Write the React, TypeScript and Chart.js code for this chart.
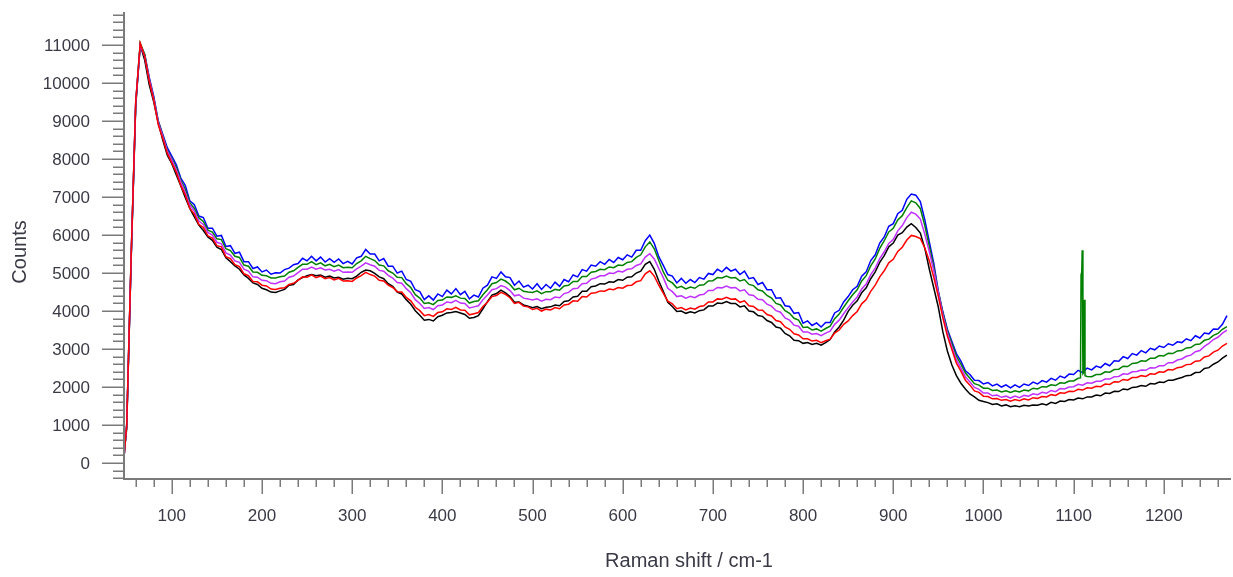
import React, { useEffect, useRef } from "react";
import { Chart, registerables } from "chart.js";

Chart.register(...registerables);

// Raman shift positions (cm-1)
const ramanShift = [
  47, 50, 55, 60, 65, 70, 75, 80, 85, 90, 95,
  100, 105, 110, 115, 120, 125, 130, 135, 140, 145,
  150, 155, 160, 165, 170, 175, 180, 185, 190, 195,
  200, 205, 210, 215, 220, 225, 230, 235, 240, 245,
  250, 255, 260, 265, 270, 275, 280, 285, 290, 295,
  300, 305, 310, 315, 320, 325, 330, 335, 340, 345,
  350, 355, 360, 365, 370, 375, 380, 385, 390, 395,
  400, 405, 410, 415, 420, 425, 430, 435, 440, 445,
  450, 455, 460, 465, 470, 475, 480, 485, 490, 495,
  500, 505, 510, 515, 520, 525, 530, 535, 540, 545,
  550, 555, 560, 565, 570, 575, 580, 585, 590, 595,
  600, 605, 610, 615, 620, 625, 630, 635, 640, 645,
  650, 655, 660, 665, 670, 675, 680, 685, 690, 695,
  700, 705, 710, 715, 720, 725, 730, 735, 740, 745,
  750, 755, 760, 765, 770, 775, 780, 785, 790, 795,
  800, 805, 810, 815, 820, 825, 830, 835, 840, 845,
  850, 855, 860, 865, 870, 875, 880, 885, 890, 895,
  900, 905, 910, 915, 920, 925, 930, 935, 940, 945,
  950, 955, 960, 965, 970, 975, 980, 985, 990, 995,
  1000, 1005, 1010, 1015, 1020, 1025, 1030, 1035, 1040, 1045,
  1050, 1055, 1060, 1065, 1070, 1075, 1080, 1085, 1090, 1095,
  1100, 1105, 1110, 1115, 1120, 1125, 1130, 1135, 1140, 1145,
  1150, 1155, 1160, 1165, 1170, 1175, 1180, 1185, 1190, 1195,
  1200, 1205, 1210, 1215, 1220, 1225, 1230, 1235, 1240, 1245,
  1250, 1255, 1260, 1265, 1270,
];

const blackCounts = [
  250, 900, 5400, 9400, 11000, 10600, 9950, 9500, 8950, 8500, 8100,
  7880, 7580, 7290, 6980, 6700, 6480, 6260, 6120, 5950, 5860,
  5680, 5620, 5400, 5300, 5190, 5100, 4950, 4860, 4740, 4700,
  4600, 4560, 4500, 4490, 4530, 4570, 4680, 4700, 4820, 4880,
  4930, 4960, 4930, 4950, 4890, 4920, 4870, 4890, 4840, 4860,
  4850, 4920, 5020, 5080, 5060, 4990, 4900, 4850, 4720, 4650,
  4500, 4450, 4300, 4180, 4010, 3890, 3760, 3780, 3740, 3850,
  3890, 3950, 3960, 3990, 3950, 3910, 3810, 3830, 3880, 4060,
  4250, 4420, 4460, 4550, 4480, 4380, 4230, 4240, 4160, 4130,
  4090, 4120, 4060, 4100, 4110, 4160, 4140, 4250, 4270, 4370,
  4390, 4520, 4520, 4640, 4660, 4720, 4710, 4770, 4760, 4830,
  4810, 4890, 4900, 5000, 5050, 5230, 5300, 5100, 4790, 4520,
  4230, 4120, 3990, 4000, 3940, 3980, 3950, 4010, 4030, 4130,
  4130, 4210, 4200, 4250, 4200, 4200, 4110, 4140, 4000, 3980,
  3880, 3860, 3750, 3700, 3580, 3550, 3410, 3350, 3230, 3220,
  3150, 3170, 3120, 3150, 3100, 3170, 3250, 3450, 3580, 3760,
  3990, 4150, 4270, 4480, 4610, 4850, 5030, 5280, 5460, 5690,
  5790, 6000, 6060, 6210, 6300, 6200, 6050, 5650, 5100, 4600,
  4100, 3450, 2950, 2580, 2300, 2100, 1950, 1820, 1740, 1650,
  1620, 1590, 1540, 1560, 1500, 1530, 1480, 1510, 1480, 1520,
  1500, 1530, 1520, 1560, 1530, 1600, 1570, 1630, 1620, 1670,
  1660, 1710, 1690, 1740, 1740, 1790, 1770, 1840, 1830, 1890,
  1880, 1950, 1930, 1990, 2000, 2040, 2020, 2090, 2080, 2130,
  2120, 2180, 2180, 2220, 2250, 2300, 2310, 2380, 2390, 2490,
  2510, 2600, 2660, 2760, 2840,
];

const redCounts = [
  150, 1000, 5500, 9500, 11050, 10700, 10050, 9550, 8900, 8550, 8150,
  7900, 7650, 7300, 7050, 6700, 6550, 6280, 6200, 5980, 5920,
  5720, 5690, 5430, 5380, 5220, 5170, 4980, 4930, 4780, 4770,
  4680, 4660, 4580, 4570, 4600, 4610, 4700, 4730, 4810, 4900,
  4890, 4950, 4880, 4920, 4850, 4880, 4820, 4860, 4790, 4800,
  4780, 4870, 4930, 5020, 4960, 4920, 4810, 4790, 4680, 4620,
  4510, 4500, 4360, 4270, 4100, 4010, 3880, 3910, 3860, 3960,
  3980, 4060, 4040, 4100, 4030, 4020, 3900, 3930, 3960, 4120,
  4230, 4380, 4410, 4490, 4440, 4350, 4200, 4230, 4130, 4110,
  4040, 4070, 4000, 4050, 4030, 4090, 4060, 4160, 4180, 4270,
  4260, 4380, 4370, 4470, 4480, 4530, 4520, 4580, 4560, 4620,
  4600, 4670, 4680, 4770, 4800, 4980, 5060, 4920, 4680, 4470,
  4260, 4190, 4060, 4090, 4030, 4080, 4050, 4120, 4140, 4240,
  4240, 4320, 4310, 4360, 4310, 4320, 4230, 4270, 4140, 4120,
  4030, 4020, 3910, 3870, 3750, 3720, 3580, 3520, 3400, 3370,
  3270, 3270, 3210, 3230, 3170, 3220, 3260, 3420, 3500, 3650,
  3740, 3880, 3990, 4190, 4300, 4520, 4680, 4900, 5060, 5270,
  5360, 5570, 5680, 5870, 5990, 5960, 5910, 5660, 5320, 4880,
  4380, 3820, 3340, 2990, 2630, 2420, 2180, 2050, 1900, 1860,
  1760, 1750, 1690, 1700, 1650, 1670, 1630, 1670, 1640, 1690,
  1660, 1720, 1700, 1750, 1740, 1800, 1780, 1850, 1840, 1890,
  1880, 1940, 1920, 1980, 1970, 2020, 2010, 2080, 2070, 2140,
  2130, 2200, 2180, 2250, 2250, 2300, 2280, 2350, 2340, 2400,
  2390, 2460, 2450, 2510, 2530, 2590, 2600, 2680, 2690, 2790,
  2820, 2920, 2970, 3080, 3150,
];

const magentaCounts = [
  150, 1000, 5500, 9500, 11000, 10700, 10100, 9580, 8950, 8600, 8200,
  7980, 7720, 7400, 7120, 6790, 6630, 6370, 6280, 6070, 6000,
  5810, 5770, 5530, 5470, 5320, 5280, 5100, 5050, 4900, 4890,
  4810, 4800, 4730, 4720, 4770, 4790, 4890, 4920, 5010, 5100,
  5100, 5160, 5100, 5140, 5080, 5100, 5050, 5090, 5020, 5030,
  5020, 5110, 5180, 5270, 5220, 5180, 5070, 5050, 4940, 4870,
  4750, 4730, 4590, 4480, 4300, 4200, 4070, 4090, 4040, 4140,
  4160, 4240, 4220, 4280, 4210, 4200, 4080, 4110, 4140, 4300,
  4420, 4560, 4590, 4670, 4630, 4540, 4400, 4430, 4340, 4320,
  4290, 4320, 4260, 4310, 4300, 4370, 4350, 4460, 4490, 4590,
  4600, 4720, 4730, 4840, 4870, 4930, 4930, 5000, 4990, 5050,
  5030, 5100, 5110, 5200, 5240, 5420, 5510, 5370, 5120, 4880,
  4600, 4510, 4380, 4400, 4340, 4390, 4350, 4420, 4440, 4540,
  4540, 4620, 4610, 4660, 4610, 4620, 4530, 4560, 4430, 4410,
  4310, 4300, 4180, 4130, 4010, 3970, 3820, 3760, 3630, 3600,
  3450, 3450, 3390, 3410, 3350, 3420, 3470, 3650, 3760, 3930,
  4090, 4240, 4370, 4580, 4710, 4960, 5130, 5380, 5560, 5780,
  5880, 6110, 6250, 6460, 6600, 6550, 6420, 6020, 5560, 5060,
  4480, 3900, 3420, 3060, 2720, 2500, 2270, 2130, 1990, 1940,
  1840, 1840, 1770, 1790, 1730, 1760, 1710, 1760, 1720, 1780,
  1760, 1820, 1800, 1860, 1840, 1910, 1880, 1960, 1950, 2000,
  2010, 2070, 2050, 2110, 2100, 2150, 2150, 2210, 2210, 2270,
  2280, 2350, 2340, 2400, 2410, 2450, 2440, 2510, 2500, 2560,
  2560, 2640, 2640, 2710, 2740, 2810, 2840, 2930, 2960, 3070,
  3150, 3250, 3310, 3420, 3500,
];

const greenCounts = [
  150, 1000, 5500, 9500, 11050, 10750, 10100, 9600, 8980, 8620, 8230,
  8010, 7780, 7450, 7200, 6850, 6700, 6450, 6360, 6130, 6080,
  5900, 5880, 5640, 5590, 5440, 5410, 5210, 5180, 5030, 5020,
  4940, 4930, 4870, 4870, 4900, 4920, 5020, 5060, 5150, 5230,
  5230, 5300, 5220, 5270, 5190, 5230, 5170, 5210, 5140, 5150,
  5140, 5250, 5320, 5440, 5380, 5330, 5210, 5190, 5060, 5000,
  4890, 4880, 4720, 4620, 4430, 4340, 4200, 4220, 4170, 4280,
  4290, 4370, 4360, 4400, 4340, 4330, 4210, 4250, 4270, 4430,
  4560, 4720, 4750, 4840, 4790, 4700, 4560, 4600, 4520, 4500,
  4490, 4530, 4460, 4510, 4510, 4570, 4550, 4660, 4680, 4780,
  4780, 4910, 4910, 5020, 5040, 5100, 5090, 5160, 5140, 5210,
  5200, 5280, 5300, 5410, 5480, 5690, 5820, 5640, 5330, 5030,
  4810, 4740, 4610, 4650, 4580, 4630, 4600, 4680, 4690, 4790,
  4800, 4880, 4870, 4920, 4870, 4880, 4790, 4830, 4700, 4670,
  4560, 4530, 4410, 4340, 4200, 4160, 4010, 3940, 3810, 3760,
  3570, 3580, 3500, 3530, 3470, 3540, 3600, 3800, 3920, 4100,
  4270, 4430, 4560, 4790, 4930, 5190, 5370, 5650, 5850, 6080,
  6180, 6400, 6510, 6720, 6900, 6850, 6700, 6250, 5700, 5150,
  4500, 3950, 3480, 3140, 2810, 2600, 2370, 2230, 2090, 2050,
  1970, 1970, 1910, 1920, 1870, 1900, 1860, 1900, 1870, 1920,
  1900, 1970, 1950, 2010, 2000, 2060, 2040, 2110, 2100, 2160,
  2160, 2230, 2210, 2280, 2270, 2330, 2330, 2400, 2390, 2460,
  2470, 2550, 2540, 2620, 2630, 2690, 2680, 2760, 2760, 2830,
  2820, 2890, 2880, 2950, 2960, 3030, 3040, 3120, 3130, 3230,
  3260, 3360, 3410, 3520, 3590,
];

// narrow spike in the green spectrum near 1110 cm-1
const greenSpikeShift = [1107.6, 1108.2, 1108.8, 1109.5, 1110.3, 1111.2, 1112.0, 1112.6];
const greenSpikeCounts = [2240, 4860, 4800, 5600, 2350, 2380, 4300, 2300];

const blueCounts = [
  150, 1000, 5450, 9450, 11000, 10750, 10150, 9650, 9000, 8650, 8300,
  8080, 7850, 7500, 7300, 6900, 6800, 6500, 6460, 6180, 6180,
  5970, 5990, 5700, 5720, 5520, 5550, 5300, 5300, 5120, 5160,
  5030, 5080, 4970, 5010, 5000, 5090, 5130, 5220, 5250, 5390,
  5320, 5440, 5320, 5420, 5290, 5380, 5280, 5370, 5250, 5310,
  5240, 5400, 5440, 5620, 5500, 5500, 5320, 5380, 5180, 5180,
  5000, 5050, 4830, 4780, 4560, 4510, 4300, 4400, 4290, 4450,
  4380, 4550, 4450, 4590, 4430, 4520, 4320, 4420, 4370, 4600,
  4680, 4900, 4860, 5030, 4900, 4880, 4680, 4790, 4630, 4680,
  4580, 4720, 4570, 4700, 4600, 4760, 4650, 4830, 4770, 4950,
  4900, 5090, 5050, 5210, 5180, 5300, 5230, 5360, 5280, 5410,
  5350, 5480, 5420, 5600, 5600, 5850, 6000, 5780, 5430, 5200,
  4960, 4920, 4740, 4860, 4730, 4830, 4750, 4880, 4840, 4990,
  4960, 5100, 5030, 5150, 5050, 5100, 4960, 5050, 4850, 4880,
  4700, 4750, 4560, 4560, 4340, 4350, 4140, 4120, 3940, 3960,
  3680, 3740, 3620, 3690, 3580, 3700, 3700, 3950, 4020, 4240,
  4380, 4560, 4650, 4920, 5030, 5330, 5480, 5790, 5950, 6230,
  6300, 6560, 6650, 6940, 7080, 7050, 6880, 6400, 5820, 5250,
  4520, 3980, 3520, 3200, 2880, 2680, 2430, 2330, 2180, 2170,
  2080, 2120, 2030, 2080, 2000, 2060, 1980, 2060, 1990, 2080,
  2040, 2130, 2080, 2170, 2130, 2230, 2180, 2290, 2240, 2340,
  2330, 2440, 2380, 2500, 2450, 2550, 2510, 2620, 2560, 2690,
  2680, 2800, 2750, 2880, 2840, 2960, 2900, 3020, 2980, 3080,
  3040, 3140, 3100, 3190, 3170, 3270, 3220, 3350, 3290, 3420,
  3400, 3530, 3520, 3650, 3880,
];

const yTickLabels = [0, 1000, 2000, 3000, 4000, 5000, 6000, 7000, 8000, 9000, 10000, 11000];
const xTickLabels = [100, 200, 300, 400, 500, 600, 700, 800, 900, 1000, 1100, 1200];
const xTitle = "Raman shift / cm-1";
const yTitle = "Counts";

const AXIS_COLOR = "#7a7a7a";
const LABEL_COLOR = "#3a3a46";
const FONT_FAMILY = "'Liberation Sans', Arial, sans-serif";

const toPoints = (counts: number[]) => ramanShift.map((x, i) => ({ x, y: counts[i] }));

const greenPoints = () => {
  const lo = greenSpikeShift[0];
  const hi = greenSpikeShift[greenSpikeShift.length - 1];
  const base = toPoints(greenCounts).filter((p) => p.x < lo || p.x > hi);
  const spike = greenSpikeShift.map((x, i) => ({ x, y: greenSpikeCounts[i] }));
  return [...base, ...spike].sort((a, b) => a.x - b.x);
};

const axesPlugin = {
  id: "customAxes",
  afterDraw(chart: any) {
    const { ctx, chartArea, scales } = chart;
    const xs = scales.x;
    const ys = scales.y;
    const { left, right, top, bottom } = chartArea;
    ctx.save();
    ctx.strokeStyle = AXIS_COLOR;
    ctx.lineCap = "butt";

    // axis lines
    ctx.lineWidth = 2;
    ctx.beginPath();
    ctx.moveTo(left, top);
    ctx.lineTo(left, bottom);
    ctx.moveTo(left - 1, bottom);
    ctx.lineTo(right, bottom);
    ctx.stroke();

    // y ticks
    ctx.lineWidth = 1.5;
    ctx.beginPath();
    for (let v = -400; v <= 11800; v += 200) {
      const py = Math.round(ys.getPixelForValue(v)) + 0.25;
      const len = v % 1000 === 0 ? 22 : 11;
      ctx.moveTo(left - len, py);
      ctx.lineTo(left, py);
    }
    // x ticks
    for (let v = 60; v <= 1260; v += 20) {
      const px = Math.round(xs.getPixelForValue(v)) + 0.25;
      const len = v % 100 === 0 ? 15 : 8;
      ctx.moveTo(px, bottom);
      ctx.lineTo(px, bottom + len);
    }
    ctx.stroke();

    // labels
    ctx.fillStyle = LABEL_COLOR;
    ctx.font = `17px ${FONT_FAMILY}`;
    ctx.textAlign = "right";
    ctx.textBaseline = "middle";
    yTickLabels.forEach((v) => {
      ctx.fillText(String(v), left - 34, ys.getPixelForValue(v) + 1);
    });
    ctx.textAlign = "center";
    xTickLabels.forEach((v) => {
      ctx.fillText(String(v), xs.getPixelForValue(v), bottom + 37);
    });

    // titles
    ctx.font = `20px ${FONT_FAMILY}`;
    ctx.fillText(xTitle, 689, 561);
    ctx.save();
    ctx.translate(20, 252);
    ctx.rotate(-Math.PI / 2);
    ctx.fillText(yTitle, 0, 0);
    ctx.restore();

    ctx.restore();
  },
};

export default function App() {
  const canvasRef = useRef<HTMLCanvasElement | null>(null);

  useEffect(() => {
    if (!canvasRef.current) return;
    const mk = (label: string, color: string, data: any[]) => ({
      label,
      data,
      borderColor: color,
      backgroundColor: color,
      borderWidth: 1.5,
      pointRadius: 0,
      tension: 0,
      fill: false,
    });
    // first dataset is drawn on top
    const chart = new Chart(canvasRef.current, {
      type: "line",
      data: {
        datasets: [
          mk("red", "#ff0000", toPoints(redCounts)),
          mk("magenta", "#c030ff", toPoints(magentaCounts)),
          mk("green", "#008000", greenPoints()),
          mk("blue", "#0000ff", toPoints(blueCounts)),
          mk("black", "#000000", toPoints(blackCounts)),
        ],
      },
      options: {
        animation: false,
        responsive: false,
        events: [],
        parsing: false as any,
        layout: { padding: { left: 124, right: 2, top: 12, bottom: 98 } },
        scales: {
          x: { type: "linear", min: 47, max: 1274.5, display: false },
          y: { type: "linear", min: -420, max: 11870, display: false },
        },
        plugins: {
          legend: { display: false },
          tooltip: { enabled: false },
        },
      },
      plugins: [axesPlugin],
    });
    return () => chart.destroy();
  }, []);

  return (
    <div style={{ position: "absolute", left: 0, top: 0, width: 1233, height: 577, background: "#ffffff" }}>
      <canvas ref={canvasRef} width={1233} height={577} style={{ display: "block" }} />
    </div>
  );
}
